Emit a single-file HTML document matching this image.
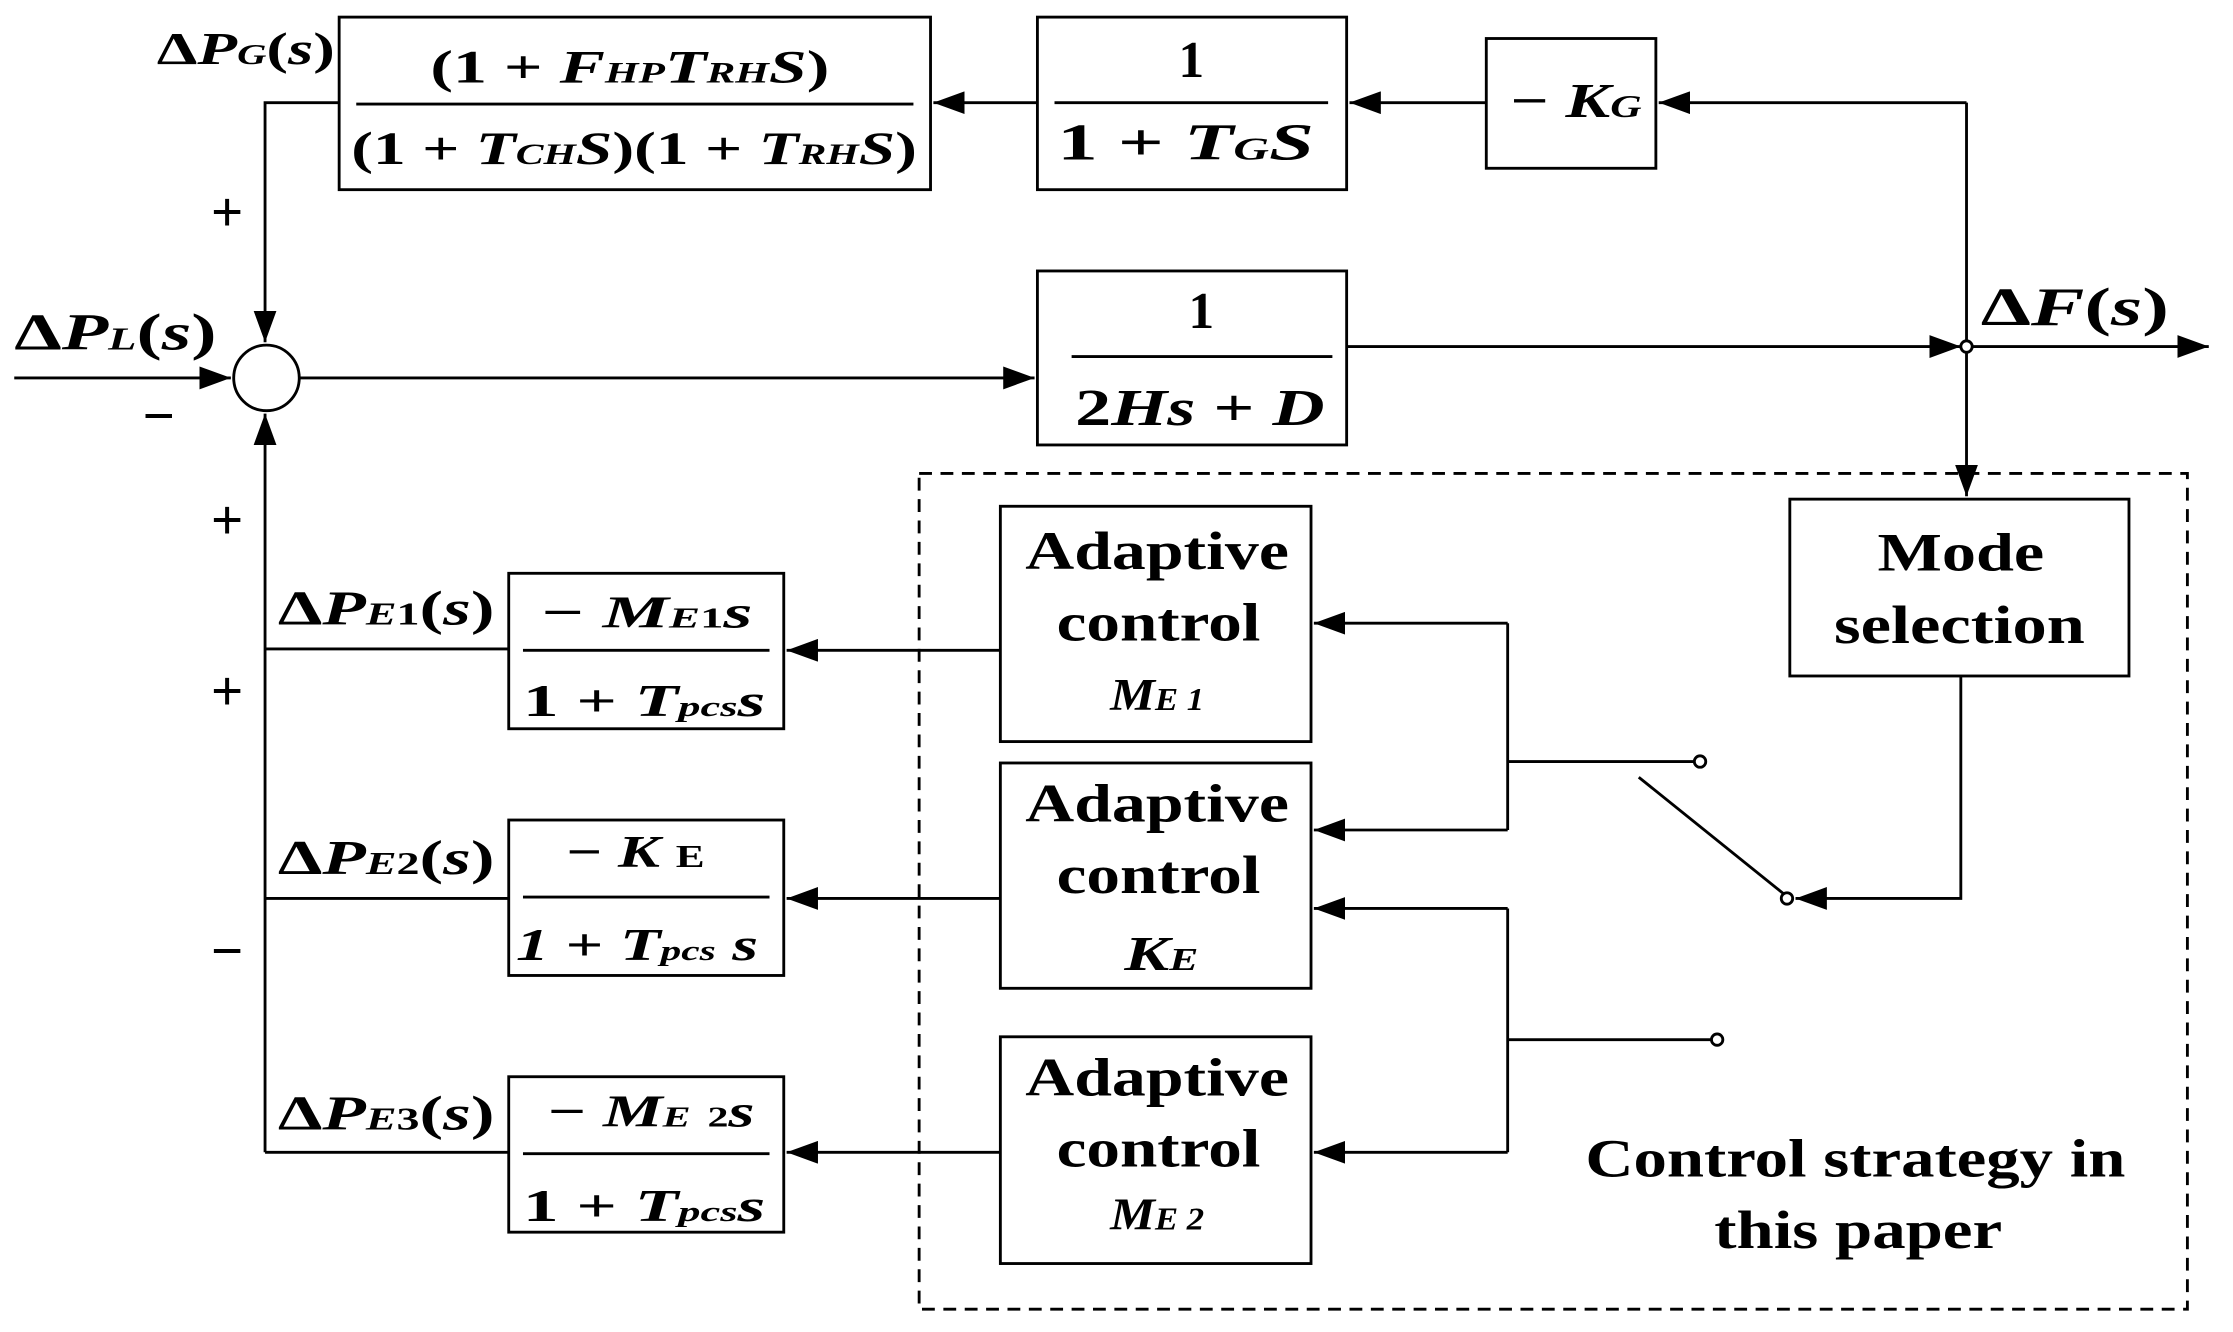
<!DOCTYPE html>
<html><head><meta charset="utf-8"><style>
html,body{margin:0;padding:0;background:#fff;}
svg{display:block;}
text{font-family:"Liberation Serif",serif;font-weight:bold;fill:#000;}
.i{font-style:italic;}
</style></head><body>
<svg width="2233" height="1332" viewBox="0 0 1567 934" preserveAspectRatio="none" xmlns="http://www.w3.org/2000/svg">
<defs>
<marker id="a" markerWidth="22" markerHeight="16" refX="22" refY="8" orient="auto" markerUnits="userSpaceOnUse">
<path d="M0,0 L22,8 L0,16 Z" fill="#000"/></marker>
</defs>
<g stroke="#000" stroke-width="2" fill="none">
<rect x="238" y="12" width="415" height="121"/>
<line x1="250" y1="73" x2="641" y2="73"/>
<rect x="728" y="12" width="217" height="121"/>
<line x1="740" y1="72" x2="932" y2="72"/>
<rect x="1043" y="27" width="119" height="91"/>
<rect x="728" y="190" width="217" height="122"/>
<line x1="752" y1="250" x2="935" y2="250"/>
<rect x="357" y="402" width="193" height="109"/>
<line x1="367" y1="456" x2="540" y2="456"/>
<rect x="357" y="575" width="193" height="109"/>
<line x1="367" y1="629" x2="540" y2="629"/>
<rect x="357" y="755" width="193" height="109"/>
<line x1="367" y1="809" x2="540" y2="809"/>
<rect x="702" y="355" width="218" height="165"/>
<rect x="702" y="535" width="218" height="158"/>
<rect x="702" y="727" width="218" height="159"/>
<rect x="1256" y="350" width="238" height="124"/>
<rect x="645" y="332" width="890" height="586" stroke-dasharray="9,6"/>
<line x1="1380" y1="72" x2="1164" y2="72" marker-end="url(#a)"/>
<line x1="1043" y1="72" x2="947" y2="72" marker-end="url(#a)"/>
<line x1="728" y1="72" x2="655" y2="72" marker-end="url(#a)"/>
<polyline points="238,72 186,72 186,240" marker-end="url(#a)"/>
<line x1="1380" y1="72" x2="1380" y2="348" marker-end="url(#a)"/>
<circle cx="187" cy="265" r="23"/>
<line x1="10" y1="265" x2="162" y2="265" marker-end="url(#a)"/>
<line x1="210" y1="265" x2="726" y2="265" marker-end="url(#a)"/>
<line x1="945" y1="243" x2="1376" y2="243" marker-end="url(#a)"/>
<line x1="1384" y1="243" x2="1550" y2="243" marker-end="url(#a)"/>
<line x1="186" y1="808" x2="186" y2="290" marker-end="url(#a)"/>
<line x1="186" y1="455" x2="357" y2="455"/>
<line x1="186" y1="630" x2="357" y2="630"/>
<line x1="186" y1="808" x2="357" y2="808"/>
<line x1="702" y1="456" x2="552" y2="456" marker-end="url(#a)"/>
<line x1="702" y1="630" x2="552" y2="630" marker-end="url(#a)"/>
<line x1="702" y1="808" x2="552" y2="808" marker-end="url(#a)"/>
<polyline points="1376,474 1376,630 1260,630" marker-end="url(#a)"/>
<line x1="1252" y1="627" x2="1150" y2="545"/>
<line x1="1189" y1="534" x2="1058" y2="534"/>
<line x1="1058" y1="437" x2="1058" y2="582"/>
<line x1="1058" y1="437" x2="922" y2="437" marker-end="url(#a)"/>
<line x1="1058" y1="582" x2="922" y2="582" marker-end="url(#a)"/>
<line x1="1201" y1="729" x2="1058" y2="729"/>
<line x1="1058" y1="637" x2="1058" y2="808"/>
<line x1="1058" y1="637" x2="922" y2="637" marker-end="url(#a)"/>
<line x1="1058" y1="808" x2="922" y2="808" marker-end="url(#a)"/>
</g>
<g fill="#fff" stroke="#000" stroke-width="2">
<circle cx="1380" cy="243" r="4"/>
<circle cx="1193" cy="534" r="4"/>
<circle cx="1205" cy="729" r="4"/>
<circle cx="1254" cy="630" r="4"/>
</g>
<g>
<text x="110" y="45" font-size="32" textLength="125" lengthAdjust="spacingAndGlyphs"><tspan>Δ</tspan><tspan class="i">P</tspan><tspan class="i" font-size="20">G</tspan>(<tspan class="i">s</tspan>)</text>
<text x="442" y="58" font-size="33" text-anchor="middle" textLength="280" lengthAdjust="spacingAndGlyphs">(1 + <tspan class="i">F<tspan font-size="21">HP</tspan>T<tspan font-size="21">RH</tspan>S</tspan>)</text>
<text x="445" y="115" font-size="33" text-anchor="middle" textLength="397" lengthAdjust="spacingAndGlyphs">(1 + <tspan class="i">T<tspan font-size="21">CH</tspan>S</tspan>)(1 + <tspan class="i">T<tspan font-size="21">RH</tspan>S</tspan>)</text>
<text x="836" y="54" font-size="36" text-anchor="middle">1</text>
<text x="832" y="112" font-size="36" text-anchor="middle" textLength="180" lengthAdjust="spacingAndGlyphs">1 + <tspan class="i">T<tspan font-size="22">G</tspan>S</tspan></text>
<text x="1106" y="82" font-size="34" text-anchor="middle" textLength="92" lengthAdjust="spacingAndGlyphs">− <tspan class="i">K<tspan font-size="22">G</tspan></tspan></text>
<text x="843" y="230" font-size="36" text-anchor="middle">1</text>
<text x="842" y="298" font-size="36" text-anchor="middle" textLength="175" lengthAdjust="spacingAndGlyphs">2<tspan class="i">Hs</tspan> + <tspan class="i">D</tspan></text>
<text x="10" y="245" font-size="36" textLength="142" lengthAdjust="spacingAndGlyphs">Δ<tspan class="i">P<tspan font-size="22">L</tspan></tspan>(<tspan class="i">s</tspan>)</text>
<text x="1390" y="228" font-size="38" textLength="132" lengthAdjust="spacingAndGlyphs">Δ<tspan class="i">F</tspan>(<tspan class="i">s</tspan>)</text>
<text x="148" y="162" font-size="40" font-weight="normal">+</text>
<text x="100" y="305" font-size="40" font-weight="normal">−</text>
<text x="148" y="378" font-size="40" font-weight="normal">+</text>
<text x="148" y="498" font-size="40" font-weight="normal">+</text>
<text x="148" y="680" font-size="40" font-weight="normal">−</text>
<text x="195" y="438" font-size="34" textLength="152" lengthAdjust="spacingAndGlyphs">Δ<tspan class="i">P<tspan font-size="22">E</tspan></tspan><tspan font-size="22">1</tspan>(<tspan class="i">s</tspan>)</text>
<text x="195" y="613" font-size="34" textLength="152" lengthAdjust="spacingAndGlyphs">Δ<tspan class="i">P<tspan font-size="22">E</tspan></tspan><tspan font-size="22">2</tspan>(<tspan class="i">s</tspan>)</text>
<text x="195" y="792" font-size="34" textLength="152" lengthAdjust="spacingAndGlyphs">Δ<tspan class="i">P<tspan font-size="22">E</tspan></tspan><tspan font-size="22">3</tspan>(<tspan class="i">s</tspan>)</text>
<text x="454" y="440" font-size="32" text-anchor="middle" textLength="148" lengthAdjust="spacingAndGlyphs">− <tspan class="i">M<tspan font-size="20">E</tspan></tspan><tspan font-size="20">1</tspan><tspan class="i">s</tspan></text>
<text x="452" y="502" font-size="32" text-anchor="middle" textLength="170" lengthAdjust="spacingAndGlyphs">1 + <tspan class="i">T<tspan font-size="20">pcs</tspan>s</tspan></text>
<text x="446" y="608" font-size="32" text-anchor="middle" textLength="97" lengthAdjust="spacingAndGlyphs">− <tspan class="i">K</tspan> <tspan font-size="22">E</tspan></text>
<text x="447" y="673" font-size="32" text-anchor="middle" textLength="170" lengthAdjust="spacingAndGlyphs"><tspan class="i">1</tspan> + <tspan class="i">T<tspan font-size="20">pcs</tspan> s</tspan></text>
<text x="457" y="790" font-size="32" text-anchor="middle" textLength="145" lengthAdjust="spacingAndGlyphs">− <tspan class="i">M<tspan font-size="20">E</tspan></tspan> <tspan font-size="20">2</tspan><tspan class="i">s</tspan></text>
<text x="452" y="856" font-size="32" text-anchor="middle" textLength="170" lengthAdjust="spacingAndGlyphs">1 + <tspan class="i">T<tspan font-size="20">pcs</tspan>s</tspan></text>
</g>
<g font-size="38" text-anchor="middle">
<text x="812" y="399" textLength="185" lengthAdjust="spacingAndGlyphs">Adaptive</text>
<text x="813" y="449" textLength="143" lengthAdjust="spacingAndGlyphs">control</text>
<text x="812" y="498" font-size="32" class="i" textLength="66" lengthAdjust="spacingAndGlyphs">M<tspan font-size="22">E 1</tspan></text>
<text x="812" y="576" textLength="185" lengthAdjust="spacingAndGlyphs">Adaptive</text>
<text x="813" y="626" textLength="143" lengthAdjust="spacingAndGlyphs">control</text>
<text x="815" y="680" font-size="34" class="i" textLength="52" lengthAdjust="spacingAndGlyphs">K<tspan font-size="22">E</tspan></text>
<text x="812" y="768" textLength="185" lengthAdjust="spacingAndGlyphs">Adaptive</text>
<text x="813" y="818" textLength="143" lengthAdjust="spacingAndGlyphs">control</text>
<text x="812" y="862" font-size="32" class="i" textLength="66" lengthAdjust="spacingAndGlyphs">M<tspan font-size="22">E 2</tspan></text>
<text x="1376" y="400" textLength="117" lengthAdjust="spacingAndGlyphs">Mode</text>
<text x="1375" y="451" textLength="176" lengthAdjust="spacingAndGlyphs">selection</text>
<text x="1302" y="825" textLength="379" lengthAdjust="spacingAndGlyphs">Control strategy in</text>
<text x="1304" y="875" textLength="202" lengthAdjust="spacingAndGlyphs">this paper</text>
</g>
</svg>
</body></html>
